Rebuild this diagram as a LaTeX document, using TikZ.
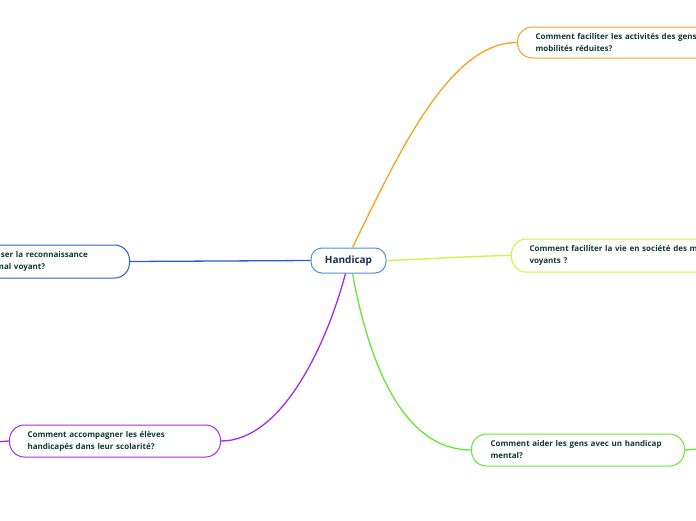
\documentclass[tikz,border=0pt]{standalone}
\usepackage{fontspec}
\setmainfont{Open Sans}
\usepackage{xcolor}
\definecolor{hubline}{HTML}{4A90D9}
\definecolor{hubtext}{HTML}{1B2A4E}
\definecolor{subtext}{HTML}{0E3B30}
\definecolor{cOrange}{HTML}{F7A11A}
\definecolor{cLime}{HTML}{D6F03C}
\definecolor{cBlue}{HTML}{2A5BE0}
\definecolor{cPurple}{HTML}{A52BF0}
\definecolor{cGreen}{HTML}{66E830}
\tikzset{
  hub/.style={draw=hubline,line width=1pt,rounded corners=11pt,fill=white,
    minimum width=75pt,minimum height=25pt,inner sep=0pt,
    text=hubtext,font=\fontsize{10}{12}\selectfont\bfseries},
  topic/.style={draw=#1,line width=1pt,rounded corners=15pt,fill=white,
    minimum height=32pt,inner xsep=18pt,inner ysep=0pt,text width=176pt,align=left,
    text=subtext,font=\fontsize{8}{12}\selectfont\bfseries},
  branch/.style={draw=#1,line width=1.3pt}
}
\begin{document}
\begin{tikzpicture}[x=1pt,y=-1pt]
\useasboundingbox (0,0) rectangle (696,520);
% centre
\node[hub] (hc) at (348.5,260.5) {Handicap};
% topics
\node[topic=cOrange,anchor=west,minimum width=250pt,text width=214pt,minimum height=31pt] (mob) at (517,42.5)
  {Comment faciliter les activités des gens à\\mobilités réduites?};
\node[topic=cLime,anchor=west,minimum width=250pt,text width=214pt,minimum height=33pt] (vue) at (511,255.5)
  {Comment faciliter la vie en société des mal\\voyants ?};
\node[topic=cBlue,anchor=east,minimum width=212pt,minimum height=33pt] (rec) at (130,261.5)
  {Comment favoriser la reconnaissance\\des personnes mal voyant?};
\node[topic=cPurple,anchor=west,minimum width=211pt,text width=175pt] (eco) at (9,441)
  {Comment accompagner les élèves\\handicapés dans leur scolarité?};
\node[topic=cGreen,anchor=west,minimum width=213pt,text width=175pt] (men) at (471,450)
  {Comment aider les gens avec un handicap\\mental?};
\coordinate (ecoout) at (-5,442);
\coordinate (menout) at (700,449);
% branches
\begin{scope}[on background layer/.try]
\draw[branch=cOrange] ([xshift=4pt]hc.north) .. controls (400,150) and (450,42.5) .. (mob.west);
\draw[branch=cLime] (hc.east) .. controls (430,259) and (470,256) .. (vue.west);
\draw[branch=cBlue] (hc.west) -- (rec.east);
\draw[branch=cPurple] ([xshift=-3pt]hc.south) .. controls (325,350) and (280,441) .. (eco.east);
\draw[branch=cGreen] ([xshift=4pt]hc.south) .. controls (372,380) and (410,450) .. (men.west);
\draw[branch=cPurple] (eco.west) -- (ecoout);
\draw[branch=cGreen] (men.east) -- (menout);
\end{scope}
\end{tikzpicture}
\end{document}
